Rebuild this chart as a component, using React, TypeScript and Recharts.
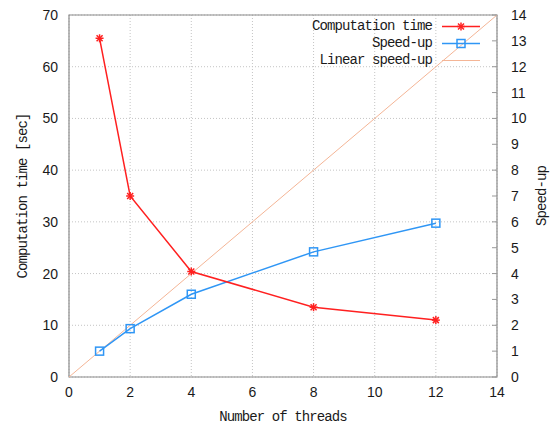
import React from "react";
import {
  ComposedChart,
  Line,
  XAxis,
  YAxis,
  CartesianGrid,
  ReferenceArea,
  Legend,
} from "recharts";

// ---- data ----
const threads = [1, 2, 4, 8, 12];
const computationTime = [65.5, 35.0, 20.4, 13.5, 11.0];
const speedUp = [1.0, 1.87, 3.2, 4.84, 5.95];
const linearX = [0, 14];
const linearY = [0, 14];

const xTicks = [0, 2, 4, 6, 8, 10, 12, 14];
const leftTicks = [0, 10, 20, 30, 40, 50, 60, 70];
const rightTicks = [0, 1, 2, 3, 4, 5, 6, 7, 8, 9, 10, 11, 12, 13, 14];

const seriesNames = ["Computation time", "Speed-up", "Linear speed-up"];

// ---- table ----
const allX = Array.from(new Set([...threads, ...linearX])).sort((a, b) => a - b);
const table = allX.map((x) => {
  const i = threads.indexOf(x);
  const j = linearX.indexOf(x);
  return {
    x,
    time: i >= 0 ? computationTime[i] : undefined,
    speed: i >= 0 ? speedUp[i] : undefined,
    linear: j >= 0 ? linearY[j] : undefined,
  };
});

const RED = "#ff2020";
const BLUE = "#2f96f5";
const SALMON = "#f4b596";
const MONO = "'Liberation Mono', 'DejaVu Sans Mono', monospace";
const SANS = "'Liberation Sans', Arial, sans-serif";
const TEXT = "#1a1a1a";
const MONO_SIZE = 14;
const MONO_SPACING = -0.9;

const StarDot = (p: any) => {
  const { cx, cy, index } = p;
  if (cx == null || cy == null || p.value == null) return <g key={`s${index}`} />;
  const r = 4;
  const d = 3;
  return (
    <g key={`s${index}`} stroke={RED} strokeWidth={1.5}>
      <line x1={cx - r} y1={cy} x2={cx + r} y2={cy} />
      <line x1={cx} y1={cy - r} x2={cx} y2={cy + r} />
      <line x1={cx - d} y1={cy - d} x2={cx + d} y2={cy + d} />
      <line x1={cx - d} y1={cy + d} x2={cx + d} y2={cy - d} />
    </g>
  );
};

const SquareDot = (p: any) => {
  const { cx, cy, index } = p;
  if (cx == null || cy == null || p.value == null) return <g key={`q${index}`} />;
  return (
    <rect
      key={`q${index}`}
      x={cx - 4}
      y={cy - 4}
      width={8}
      height={8}
      fill="none"
      stroke={BLUE}
      strokeWidth={1.5}
    />
  );
};

const RightTick = (p: any) => {
  const { x, y, payload } = p;
  const ax = x - 14;
  return (
    <g>
      <line x1={ax} y1={y} x2={ax - 5} y2={y} stroke="#999" strokeWidth={1} />
      <text x={x} y={y} dy="0.355em" textAnchor="start" fontSize={14} fontFamily={SANS} fill={TEXT}>
        {payload.value}
      </text>
    </g>
  );
};

const LegendContent = () => {
  const markers = [
    (
      <g stroke={RED} strokeWidth={1.5}>
        <line x1={10} y1={8.5} x2={48} y2={8.5} />
        <line x1={25} y1={8.5} x2={33} y2={8.5} />
        <line x1={29} y1={4.5} x2={29} y2={12.5} />
        <line x1={26} y1={5.5} x2={32} y2={11.5} />
        <line x1={26} y1={11.5} x2={32} y2={5.5} />
      </g>
    ),
    (
      <g stroke={BLUE} strokeWidth={1.5} fill="none">
        <line x1={10} y1={8.5} x2={48} y2={8.5} />
        <rect x={25} y={4.5} width={8} height={8} />
      </g>
    ),
    (
      <g stroke={SALMON} strokeWidth={1}>
        <line x1={10} y1={8.5} x2={48} y2={8.5} />
      </g>
    ),
  ];
  return (
    <div style={{ width: 200 }}>
      {seriesNames.map((name, i) => (
        <div key={name} style={{ display: "flex", alignItems: "center", height: 17 }}>
          <span
            style={{
              width: 142,
              textAlign: "right",
              fontFamily: MONO,
              fontSize: MONO_SIZE,
              letterSpacing: MONO_SPACING,
              color: TEXT,
              whiteSpace: "nowrap",
              lineHeight: "17px",
            }}
          >
            {name}
          </span>
          <svg width={50} height={17} style={{ display: "block" }}>
            {markers[i]}
          </svg>
        </div>
      ))}
    </div>
  );
};

const XTitle = (p: any) => {
  const vb = p.viewBox || { x: 69, y: 377, width: 428, height: 48 };
  return (
    <text
      x={vb.x + vb.width / 2}
      y={vb.y + 44}
      textAnchor="middle"
      fontFamily={MONO}
      fontSize={MONO_SIZE}
      letterSpacing={MONO_SPACING}
      fill={TEXT}
    >
      Number of threads
    </text>
  );
};

const LeftTitle = (p: any) => {
  const vb = p.viewBox || { x: 0, y: 15, width: 69, height: 362 };
  const x = vb.x + 27;
  const y = vb.y + vb.height / 2;
  return (
    <text
      x={x}
      y={y}
      transform={`rotate(-90, ${x}, ${y})`}
      textAnchor="middle"
      fontFamily={MONO}
      fontSize={MONO_SIZE}
      letterSpacing={MONO_SPACING}
      fill={TEXT}
    >
      Computation time [sec]
    </text>
  );
};

const RightTitle = (p: any) => {
  const vb = p.viewBox || { x: 497, y: 15, width: 55, height: 362 };
  const x = vb.x + 49;
  const y = vb.y + vb.height / 2;
  return (
    <text
      x={x}
      y={y}
      transform={`rotate(-90, ${x}, ${y})`}
      textAnchor="middle"
      fontFamily={MONO}
      fontSize={MONO_SIZE}
      letterSpacing={MONO_SPACING}
      fill={TEXT}
    >
      Speed-up
    </text>
  );
};

export default function App() {
  return (
    <div style={{ position: "absolute", left: 0, top: 0, width: 552, height: 425, background: "#fff" }}>
      <ComposedChart
        width={552}
        height={425}
        data={table}
        margin={{ top: 15, right: 0, bottom: 0, left: 0 }}
      >
        <CartesianGrid
          yAxisId="left"
          stroke="#c4c4c4"
          strokeDasharray="1 2"
          horizontalValues={leftTicks}
          verticalValues={xTicks}
        />
        <XAxis
          dataKey="x"
          type="number"
          domain={[0, 14]}
          ticks={xTicks}
          height={48}
          axisLine={false}
          tickLine={false}
          tickSize={0}
          tickMargin={10}
          tick={{ fontSize: 14, fontFamily: SANS, fill: TEXT }}
          label={XTitle}
        />
        <YAxis
          yAxisId="left"
          type="number"
          domain={[0, 70]}
          ticks={leftTicks}
          width={69}
          axisLine={false}
          tickLine={false}
          tickSize={0}
          tickMargin={11}
          tick={{ fontSize: 14, fontFamily: SANS, fill: TEXT }}
          label={LeftTitle}
        />
        <YAxis
          yAxisId="right"
          orientation="right"
          type="number"
          domain={[0, 14]}
          ticks={rightTicks}
          width={55}
          axisLine={false}
          tickLine={false}
          tickSize={0}
          tickMargin={14}
          tick={RightTick}
          interval={0}
          label={RightTitle}
        />
        <ReferenceArea
          yAxisId="left"
          x1={0}
          x2={14}
          y1={0}
          y2={70}
          fill="none"
          stroke="#8c8c8c"
          strokeWidth={1.2}
          ifOverflow="visible"
        />
        <Line
          yAxisId="right"
          dataKey="linear"
          name={seriesNames[2]}
          stroke={SALMON}
          strokeWidth={1}
          dot={false}
          connectNulls
          isAnimationActive={false}
        />
        <Line
          yAxisId="right"
          dataKey="speed"
          name={seriesNames[1]}
          stroke={BLUE}
          strokeWidth={1.5}
          dot={SquareDot}
          activeDot={false}
          connectNulls
          isAnimationActive={false}
        />
        <Line
          yAxisId="left"
          dataKey="time"
          name={seriesNames[0]}
          stroke={RED}
          strokeWidth={1.5}
          dot={StarDot}
          activeDot={false}
          connectNulls
          isAnimationActive={false}
        />
        <Legend
          layout="vertical"
          align="center"
          verticalAlign="middle"
          content={LegendContent}
          wrapperStyle={{ position: "absolute", left: 290, top: 18, width: 200, height: 51 }}
        />
      </ComposedChart>
    </div>
  );
}
